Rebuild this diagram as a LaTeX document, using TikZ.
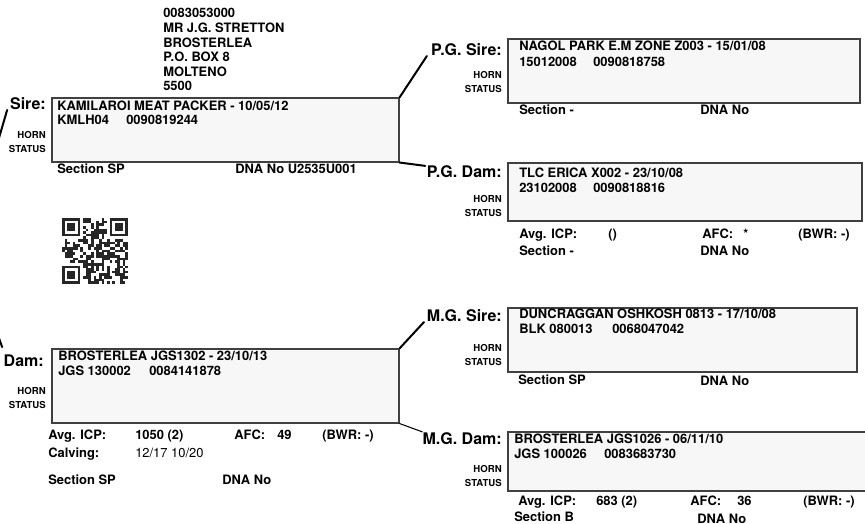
\documentclass[tikz,border=0pt]{standalone}
\usepackage{fontspec}
\setmainfont{TeX Gyre Heros}
\usetikzlibrary{fit, positioning}

\tikzset{
  box/.style={draw=black!75, fill=black!3, line width=0.8pt, inner sep=0pt},
  rel/.style={font=\fontsize{12}{14}\selectfont\bfseries, inner sep=0pt, anchor=base east},
  horn/.style={font=\fontsize{7.2}{10.5}\selectfont\bfseries, inner sep=0pt, anchor=base east, align=right},
  txt/.style={font=\fontsize{9.7}{11}\selectfont\bfseries, inner sep=0pt, anchor=base west},
  plain/.style={font=\fontsize{9.7}{11}\selectfont, inner sep=0pt, anchor=base west},
  link/.style={line width=1.5pt, line cap=round},
}

\begin{document}
\begin{tikzpicture}[x=0.75pt, y=-0.75pt]
    \useasboundingbox (0,0) rectangle (865,524);
    \clip (0,0) rectangle (865,524);

    % Owner
    \node[txt, align=left, font=\fontsize{9.7}{10.95}\selectfont\bfseries] (owner) at (163,91) {
      0083053000\\
      MR J.G. STRETTON\\
      BROSTERLEA\\
      P.O. BOX 8\\
      MOLTENO\\
      5500
    };

    % Sire
    \node[box, fit={(52,98) (399,162)}] (sirebox) {};
    \node[rel] (sire) at (46,110) {Sire:};
    \node[txt] (sirename) at (57,111) {KAMILAROI MEAT PACKER - 10/05/12};
    \node[txt] (sireid) at (57,125) {KMLH04};
    \node[txt] (sirereg) at (126,125) {0090819244};
    \node[horn] (sirehorn) at (46,153) {HORN\\STATUS};
    \node[txt] (siresec) at (57,174) {Section SP};
    \node[txt] (siredna) at (235,174) {DNA No U2535U001};

    % P.G. Sire
    \node[box, fit={(508,39) (860,103)}] (pgsirebox) {};
    \node[rel] (pgsire) at (502,56) {P.G. Sire:};
    \node[txt] (pgsirename) at (519,51) {NAGOL PARK E.M ZONE Z003 - 15/01/08};
    \node[txt] (pgsireid) at (519,67) {15012008};
    \node[txt] (pgsirereg) at (593,67) {0090818758};
    \node[horn] (pgsirehorn) at (502,93) {HORN\\STATUS};
    \node[txt] (pgsiresec) at (519,115) {Section -};
    \node[txt] (pgsiredna) at (700,115) {DNA No};

    % P.G. Dam
    \node[box, fit={(508,163) (862,221)}] (pgdambox) {};
    \node[rel] (pgdam) at (502,178) {P.G. Dam:};
    \node[txt] (pgdamname) at (519,178) {TLC ERICA X002 - 23/10/08};
    \node[txt] (pgdamid) at (519,193) {23102008};
    \node[txt] (pgdamreg) at (593,193) {0090818816};
    \node[horn] (pgdamhorn) at (502,217) {HORN\\STATUS};
    \node[txt] (pgdamicp) at (519,239) {Avg. ICP:};
    \node[txt] (pgdamicpval) at (608,239) {()};
    \node[txt] (pgdamafc) at (702,239) {AFC:};
    \node[txt] (pgdamafcval) at (743,239) {*};
    \node[txt] (pgdambwr) at (798,239) {(BWR: -)};
    \node[txt] (pgdamsec) at (519,256) {Section -};
    \node[txt] (pgdamdna) at (700,256) {DNA No};

    % Dam
    \node[box, fit={(52,349) (399,423)}] (dambox) {};
    \node[rel] (dam) at (44,367) {Dam:};
    \node[txt] (damname) at (58,361) {BROSTERLEA JGS1302 - 23/10/13};
    \node[txt] (damid) at (58,376) {JGS 130002};
    \node[txt] (damreg) at (149,376) {0084141878};
    \node[horn] (damhorn) at (46,408) {HORN\\STATUS};
    \node[txt] (damicp) at (48,439) {Avg. ICP:};
    \node[txt] (damicpval) at (135,439) {1050 (2)};
    \node[txt] (damafc) at (234,439) {AFC:};
    \node[txt] (damafcval) at (277,439) {49};
    \node[txt] (dambwr) at (322,439) {(BWR: -)};
    \node[txt] (damcalv) at (48,457) {Calving:};
    \node[plain] (damcalvval) at (135,457) {12/17 10/20};
    \node[txt] (damsec) at (48,484) {Section SP};
    \node[txt] (damdna) at (222,484) {DNA No};

    % M.G. Sire
    \node[box, fit={(508,308) (857,372)}] (mgsirebox) {};
    \node[rel] (mgsire) at (502,322) {M.G. Sire:};
    \node[txt] (mgsirename) at (519,319) {DUNCRAGGAN OSHKOSH 0813 - 17/10/08};
    \node[txt] (mgsireid) at (519,334) {BLK 080013};
    \node[txt] (mgsirereg) at (612,334) {0068047042};
    \node[horn] (mgsirehorn) at (502,366) {HORN\\STATUS};
    \node[txt] (mgsiresec) at (518,384) {Section SP};
    \node[txt] (mgsiredna) at (700,385) {DNA No};

    % M.G. Dam
    \node[box, fit={(508,432) (880,491)}] (mgdambox) {};
    \node[rel] (mgdam) at (502,444) {M.G. Dam:};
    \node[txt] (mgdamname) at (514,443) {BROSTERLEA JGS1026 - 06/11/10};
    \node[txt] (mgdamid) at (514,458) {JGS 100026};
    \node[txt] (mgdamreg) at (604,458) {0083683730};
    \node[horn] (mgdamhorn) at (502,486) {HORN\\STATUS};
    \node[txt] (mgdamicp) at (518,505) {Avg. ICP:};
    \node[txt] (mgdamicpval) at (596,505) {683 (2)};
    \node[txt] (mgdamafc) at (690,505) {AFC:};
    \node[txt] (mgdamafcval) at (737,505) {36};
    \node[txt] (mgdambwr) at (803,505) {(BWR: -)};
    \node[txt] (mgdamsec) at (514,521) {Section B};
    \node[txt] (mgdamdna) at (697,523) {DNA No};

    % QR code
    \pgfmathsetseed{42}
    \foreach \i in {0,...,24}{
      \foreach \j in {0,...,24}{
        \pgfmathtruncatemacro{\bit}{((\i<8 && \j<8) || (\i>16 && \j<8) || (\i<8 && \j>16)) ? 0 : (rnd<0.55)}
        \ifnum\bit=1
          \fill[black!85] (62+\i*2.64, 218+\j*2.64) rectangle ++(2.64,2.64);
        \fi
      }
    }
    \foreach \fx/\fy in {62/218, 109.52/218, 62/265.52}{
      \fill[black!85] (\fx,\fy) rectangle ++(18.48,18.48);
      \fill[white] (\fx+2.64,\fy+2.64) rectangle ++(13.2,13.2);
      \fill[black!85] (\fx+5.28,\fy+5.28) rectangle ++(7.92,7.92);
    }

    % links
    \coordinate (sirefrom) at (-6,155);
    \coordinate (damfrom) at (-6,324);
    \draw[link] (sirefrom) -- ([xshift=-2pt]sire.base west);
    \draw[link] (damfrom) -- ([xshift=-1pt, yshift=6pt]dam.north west);
    \draw[link] (sirebox.north east) -- ([xshift=-3pt]pgsire.base west);
    \draw[link] (sirebox.south east) -- ([xshift=-1pt]pgdam.north west);
    \draw[link] (dambox.north east) -- ([xshift=-2pt]mgsire.base west);
    \draw[link, line width=0.8pt] (dambox.south east) -- (mgdam.north west);
\end{tikzpicture}
\end{document}
